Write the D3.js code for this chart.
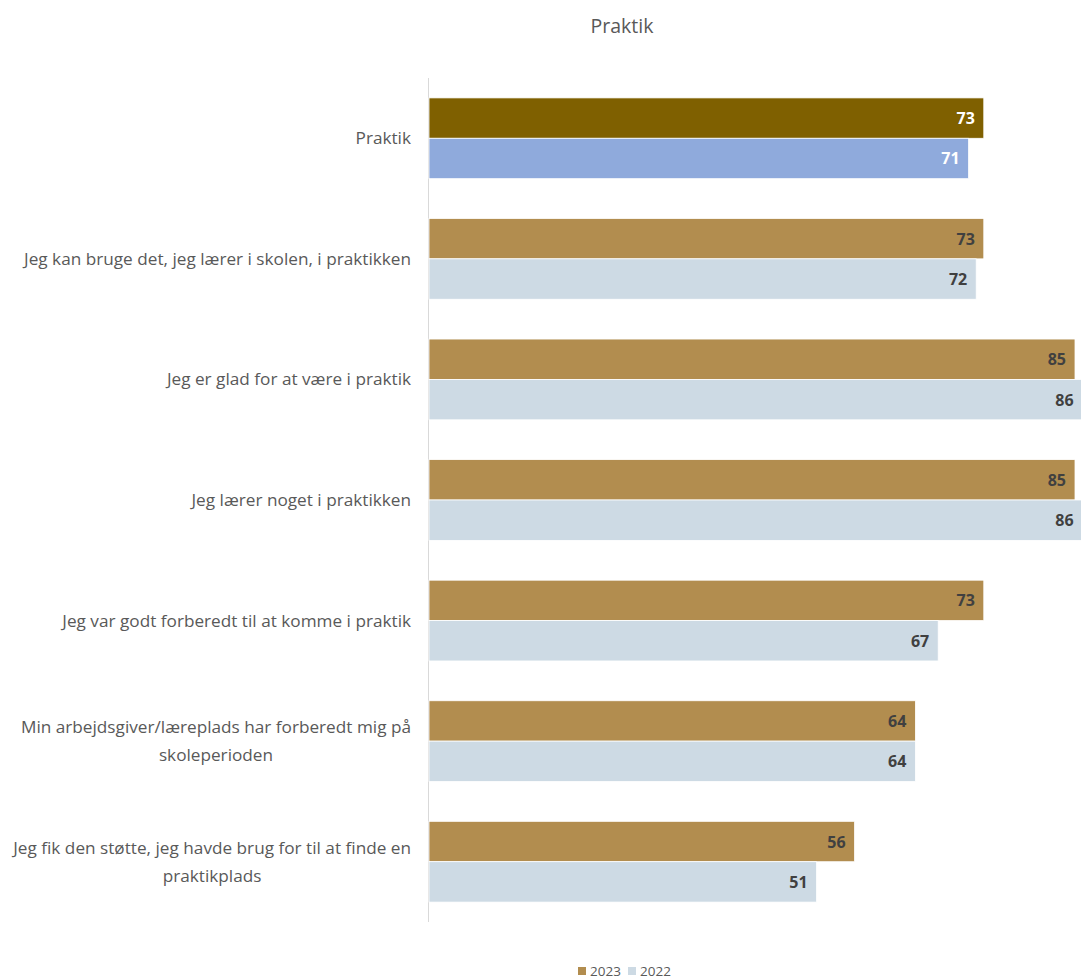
<!DOCTYPE html>
<html><head><meta charset="utf-8">
<script src="https://cdn.jsdelivr.net/npm/d3@7/dist/d3.min.js"></script>
<style>body{margin:0;background:#fff;} svg{display:block;}</style>
</head><body>
<svg id="chart" width="1081" height="980"></svg>
<script>
const categories = [
  ["Praktik"],
  ["Jeg kan bruge det, jeg lærer i skolen, i praktikken"],
  ["Jeg er glad for at være i praktik"],
  ["Jeg lærer noget i praktikken"],
  ["Jeg var godt forberedt til at komme i praktik"],
  ["Min arbejdsgiver/læreplads har forberedt mig på", "skoleperioden"],
  ["Jeg fik den støtte, jeg havde brug for til at finde en", "praktikplads"]
];
const series = ["2023", "2022"];
const values2023 = [73, 73, 85, 85, 73, 64, 56];
const values2022 = [71, 72, 86, 86, 67, 64, 51];
const title = "Praktik";

const svg = d3.select("#chart");
const font = "'Open Sans', sans-serif";
const left = 429;

const y = d3.scaleBand().domain(d3.range(categories.length)).range([78, 922]).paddingInner(0.33).paddingOuter(0.165);
const ySub = d3.scaleBand().domain(series).range([0, y.bandwidth()]);
const x = d3.scaleLinear().domain([0, 90]).range([left, left + 684]);

const fill2023 = i => i === 0 ? "#7F6000" : "#B28D4F";
const fill2022 = i => i === 0 ? "#8FAADC" : "#CDDAE4";
const lbl = i => i === 0 ? "#ffffff" : "#404040";

svg.append("text").attr("x", 622).attr("y", 33).attr("text-anchor", "middle")
  .attr("font-family", font).attr("font-size", 19.5).attr("fill", "#595959").text(title);

// axis line
svg.append("line").attr("x1", left - 0.5).attr("x2", left - 0.5).attr("y1", 78).attr("y2", 922)
  .attr("stroke", "#d9d9d9").attr("stroke-width", 1);

const groups = svg.selectAll("g.cat").data(categories).join("g").attr("class", "cat")
  .attr("transform", (d, i) => `translate(0,${y(i)})`);

[["2023", values2023, fill2023], ["2022", values2022, fill2022]].forEach(([s, vals, f]) => {
  groups.append("rect")
    .attr("x", x(0)).attr("y", ySub(s))
    .attr("width", (d, i) => x(vals[i]) - x(0)).attr("height", ySub.bandwidth())
    .attr("fill", (d, i) => f(i)).attr("stroke", "#ffffff").attr("stroke-width", 0.8);
  groups.append("text")
    .attr("x", (d, i) => x(vals[i]) - 9).attr("y", ySub(s) + ySub.bandwidth() / 2 + 6)
    .attr("text-anchor", "end").attr("font-family", font).attr("font-size", 16).attr("font-weight", "bold")
    .attr("fill", (d, i) => lbl(i)).text((d, i) => vals[i]);
});

// category labels
groups.each(function(lines, i) {
  const g = d3.select(this);
  const cy = y.bandwidth() / 2;
  const lh = 28;
  const t = g.append("text").attr("font-family", font).attr("font-size", 17.2).attr("fill", "#595959");
  const spans = lines.map((l, k) => t.append("tspan").attr("x", 411).attr("y", cy + 6 + (k - (lines.length - 1) / 2) * lh).attr("text-anchor", "end").text(l));
  if (lines.length > 1) {
    const w0 = spans[0].node().getComputedTextLength();
    const c = 411 - w0 / 2;
    spans.forEach(sp => sp.attr("x", c).attr("text-anchor", "middle"));
  }
});

// legend
const leg = svg.append("g");
[["2023", "#B28D4F", 578], ["2022", "#CDDAE4", 628]].forEach(([s, c, lx]) => {
  leg.append("rect").attr("x", lx).attr("y", 967).attr("width", 8).attr("height", 8).attr("fill", c);
  leg.append("text").attr("x", lx + 12).attr("y", 976).attr("font-family", font).attr("font-size", 13.5)
    .attr("fill", "#595959").text(s);
});
</script>
</body></html>
